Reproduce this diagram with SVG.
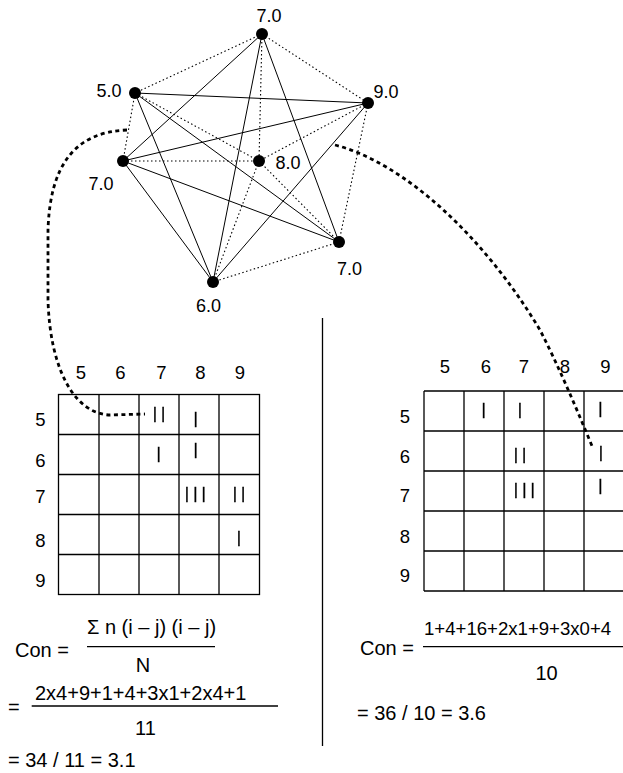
<svg xmlns="http://www.w3.org/2000/svg" width="623" height="773" viewBox="0 0 623 773">
  <defs>
    <!-- keep thin tally glyphs neutral grey/black -->
    <filter id="mono" x="-20%" y="-20%" width="140%" height="140%">
      <feColorMatrix type="saturate" values="0"/>
    </filter>
  </defs>
  <style>
    text { font-family: "Liberation Sans", Arial, Helvetica, sans-serif; fill: #000; }
    .lbl { font-size: 18px; text-anchor: middle; }
    .dig { font-size: 18.5px; text-anchor: middle; }
    .tal { font-size: 16.5px; text-anchor: middle; letter-spacing: 4px; stroke: #000; stroke-width: 0.35; }
    .fx  { font-size: 20px; }
    .fxs { font-size: 18.6px; }
    .solid { stroke: #000; stroke-width: 1; fill: none; }
    .dot { stroke: #000; stroke-width: 1.1; fill: none; stroke-dasharray: 1.5 2.5; }
    .link { stroke: #000; stroke-width: 2.8; fill: none; stroke-dasharray: 4 3.5; }
    .grid { stroke: #000; stroke-width: 1.3; fill: none; }
    .rule { stroke: #000; stroke-width: 1.3; }
  </style>
  <rect width="623" height="773" fill="#fff"/>

  <!-- graph edges -->
  <g id="edges">
    <!-- solid edges -->
    <line class="solid" x1="262" y1="34" x2="123" y2="161"/>
    <line class="solid" x1="262" y1="34" x2="213" y2="282"/>
    <line class="solid" x1="262" y1="34" x2="339" y2="242"/>
    <line class="solid" x1="135" y1="93" x2="368" y2="103"/>
    <line class="solid" x1="135" y1="93" x2="339" y2="242"/>
    <line class="solid" x1="135" y1="93" x2="213" y2="282"/>
    <line class="solid" x1="368" y1="103" x2="123" y2="161"/>
    <line class="solid" x1="368" y1="103" x2="213" y2="282"/>
    <line class="solid" x1="123" y1="161" x2="339" y2="242"/>
    <line class="solid" x1="123" y1="161" x2="213" y2="282"/>
    <!-- dotted edges -->
    <line class="dot" x1="262" y1="34" x2="135" y2="93"/>
    <line class="dot" x1="262" y1="34" x2="368" y2="103"/>
    <line class="dot" x1="262" y1="34" x2="259" y2="161"/>
    <line class="dot" x1="135" y1="93" x2="123" y2="161"/>
    <line class="dot" x1="135" y1="93" x2="259" y2="161"/>
    <line class="dot" x1="368" y1="103" x2="259" y2="161"/>
    <line class="dot" x1="368" y1="103" x2="339" y2="242"/>
    <line class="dot" x1="123" y1="161" x2="259" y2="161"/>
    <line class="dot" x1="259" y1="161" x2="213" y2="282"/>
    <line class="dot" x1="259" y1="161" x2="339" y2="242"/>
    <line class="dot" x1="339" y1="242" x2="213" y2="282"/>
  </g>

  <!-- graph nodes -->
  <g id="node-top">
    <circle cx="262" cy="34" r="6"/>
    <text class="lbl" x="269" y="21.5">7.0</text>
  </g>
  <g id="node-5">
    <circle cx="135" cy="93" r="6"/>
    <text class="lbl" x="109" y="97">5.0</text>
  </g>
  <g id="node-9">
    <circle cx="368" cy="103" r="6"/>
    <text class="lbl" x="386" y="98">9.0</text>
  </g>
  <g id="node-left">
    <circle cx="123" cy="161" r="6"/>
    <text class="lbl" x="101" y="190">7.0</text>
  </g>
  <g id="node-8">
    <circle cx="259" cy="161" r="6"/>
    <text class="lbl" x="288" y="169">8.0</text>
  </g>
  <g id="node-right">
    <circle cx="339" cy="242" r="6"/>
    <text class="lbl" x="349.5" y="275">7.0</text>
  </g>
  <g id="node-6">
    <circle cx="213" cy="282" r="6"/>
    <text class="lbl" x="208.5" y="311.5">6.0</text>
  </g>

  <!-- divider -->
  <line class="rule" x1="322.5" y1="318" x2="322.5" y2="746"/>

  <!-- left co-occurrence matrix (dotted edges) -->
  <g id="matrix-left">
    <rect class="grid" x="58.5" y="394.5" width="201" height="200"/>
    <path class="grid" d="M99,394.5V594.5M139,394.5V594.5M179,394.5V594.5M219,394.5V594.5M58.5,434.5H259.5M58.5,474.5H259.5M58.5,514.5H259.5M58.5,554.5H259.5"/>
    <text class="dig" x="81" y="378.5">5</text>
    <text class="dig" x="120.5" y="378.5">6</text>
    <text class="dig" x="161.5" y="378.5">7</text>
    <text class="dig" x="200.5" y="378.5">8</text>
    <text class="dig" x="240" y="378.5">9</text>
    <text class="dig" x="40.5" y="426">5</text>
    <text class="dig" x="40.5" y="467">6</text>
    <text class="dig" x="40.5" y="503">7</text>
    <text class="dig" x="40.5" y="547">8</text>
    <text class="dig" x="40.5" y="587">9</text>
    <g filter="url(#mono)">
      <text class="tal" x="161" y="419">||</text>
      <text class="tal" x="197.7" y="424">|</text>
      <text class="tal" x="160.7" y="459">|</text>
      <text class="tal" x="197.7" y="455">|</text>
      <text class="tal" x="197.3" y="499">|||</text>
      <text class="tal" x="241" y="499">||</text>
      <text class="tal" x="241" y="543">|</text>
    </g>
  </g>

  <!-- right co-occurrence matrix (solid edges) -->
  <g id="matrix-right">
    <path class="grid" d="M424,391V591M464,391V591M504,391V591M544,391V591M584,391V591M424,391H623M424,431H623M424,471H623M424,511H623M424,551H623M424,591H623"/>
    <text class="dig" x="445" y="373">5</text>
    <text class="dig" x="486" y="373">6</text>
    <text class="dig" x="524" y="373">7</text>
    <text class="dig" x="565" y="373">8</text>
    <text class="dig" x="605.5" y="373">9</text>
    <text class="dig" x="405" y="423">5</text>
    <text class="dig" x="405" y="463">6</text>
    <text class="dig" x="405" y="502">7</text>
    <text class="dig" x="405" y="543">8</text>
    <text class="dig" x="405" y="582">9</text>
    <g filter="url(#mono)">
      <text class="tal" x="485.7" y="415">|</text>
      <text class="tal" x="522" y="415">|</text>
      <text class="tal" x="602.3" y="414">|</text>
      <text class="tal" x="522" y="460">||</text>
      <text class="tal" x="603" y="458">|</text>
      <text class="tal" x="526.3" y="495">|||</text>
      <text class="tal" x="602.3" y="491">|</text>
    </g>
  </g>

  <!-- left contrast formula -->
  <g id="formula-left">
    <text class="fx" x="15" y="656.5">Con =</text>
    <text class="fx" x="87" y="634">Σ n (i – j) (i – j)</text>
    <line class="rule" x1="87" y1="646.7" x2="215" y2="646.7"/>
    <text class="fx" x="143" y="671.7" text-anchor="middle">N</text>
    <text class="fx" x="8" y="714">=</text>
    <text class="fx" x="35" y="700">2x4+9+1+4+3x1+2x4+1</text>
    <line class="rule" x1="31.7" y1="706" x2="278" y2="706"/>
    <text class="fx" x="145.5" y="735" text-anchor="middle">11</text>
    <text class="fx" x="8" y="766.5">= 34 / 11 = 3.1</text>
  </g>

  <!-- right contrast formula -->
  <g id="formula-right">
    <text class="fx" x="360" y="655">Con =</text>
    <text class="fxs" x="424" y="635">1+4+16+2x1+9+3x0+4</text>
    <line class="rule" x1="423" y1="646.7" x2="623" y2="646.7"/>
    <text class="fx" x="546.5" y="680" text-anchor="middle">10</text>
    <text class="fx" x="357" y="720">= 36 / 10 = 3.6</text>
  </g>

  <!-- thick dotted links from graph to matrices -->
  <g id="connectors">
    <path class="link" d="M127,130 C75,132 50,165 48,230 L48,300 C50,370 75,414 110,415 L145,414"/>
    <path class="link" d="M335,145 C405,163 485,238 540,330 C558,365 575,405 592,446"/>
  </g>
</svg>
